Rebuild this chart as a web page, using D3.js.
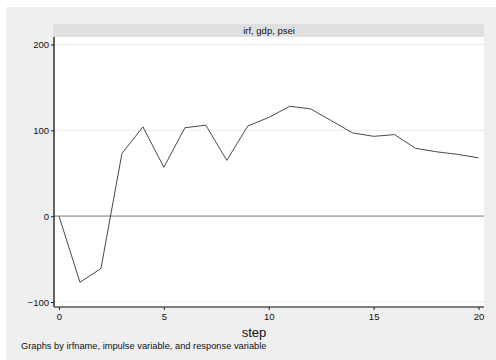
<!DOCTYPE html>
<html>
<head>
<meta charset="utf-8">
<script src="https://cdn.jsdelivr.net/npm/d3@7"></script>
<style>
  html, body { margin: 0; padding: 0; background: #ffffff; }
  svg { display: block; font-family: "Liberation Sans", Arial, sans-serif; }
</style>
</head>
<body>
<svg id="chart" width="496" height="360"></svg>
<script>
// Impulse response of psei to a gdp shock, by step
const steps = [0, 1, 2, 3, 4, 5, 6, 7, 8, 9, 10, 11, 12, 13, 14, 15, 16, 17, 18, 19, 20];
const irf = [0, -77, -61, 73, 104, 57, 103, 106, 65, 105, 115, 128, 125, 111, 97, 93, 95, 79, 75, 72, 68];
const xTicks = [0, 5, 10, 15, 20];
const yTicks = [-100, 0, 100, 200];
const panelTitle = "irf, gdp, psei";
const xTitle = "step";
const note = "Graphs by irfname, impulse variable, and response variable";

const svg = d3.select("#chart");

// outer graph region
svg.append("rect").attr("x", 6).attr("y", 7).attr("width", 490).attr("height", 353)
  .attr("fill", "#efefef");

const plotL = 54, plotR = 484, plotT = 37, plotB = 307;

// panel title strip
svg.append("rect").attr("x", plotL - 1).attr("y", 24).attr("width", plotR - plotL + 1).attr("height", 13)
  .attr("fill", "#e0e0e0");
svg.append("text").attr("x", (plotL + plotR) / 2).attr("y", 34)
  .attr("text-anchor", "middle").attr("font-size", 9.5).attr("fill", "#111")
  .text(panelTitle);

// plot region
svg.append("rect").attr("x", plotL).attr("y", plotT).attr("width", plotR - plotL).attr("height", plotB - plotT)
  .attr("fill", "#ffffff");

const x = d3.scaleLinear().domain([0, 20]).range([59, 478.5]);
const y = d3.scaleLinear().domain([-100, 200]).range([302, 44.5]);

// gridlines
svg.append("g").selectAll("line").data(yTicks.filter(d => d !== 0)).join("line")
  .attr("x1", plotL).attr("x2", plotR)
  .attr("y1", d => y(d)).attr("y2", d => y(d))
  .attr("stroke", "#ececec").attr("stroke-width", 1);

// zero reference line
svg.append("line").attr("x1", plotL).attr("x2", plotR)
  .attr("y1", y(0)).attr("y2", y(0))
  .attr("stroke", "#b2b2b2").attr("stroke-width", 1.6);

// response line
const line = d3.line().x((d, i) => x(steps[i])).y(d => y(d));
svg.append("path").datum(irf).attr("d", line)
  .attr("fill", "none").attr("stroke", "#4a4a4a").attr("stroke-width", 1)
  .attr("stroke-linejoin", "round");

// y axis
const yAxis = d3.axisLeft(y).tickValues(yTicks).tickSize(3).tickPadding(2).tickFormat(d3.format("d"));
const gy = svg.append("g").attr("transform", `translate(${plotL},0)`).call(yAxis);
gy.select(".domain").attr("d", `M0,${plotT}V${plotB}`).attr("stroke", "#111").attr("stroke-width", 1.3);
gy.selectAll(".tick line").attr("stroke", "#222");
gy.selectAll(".tick text").attr("font-size", 9.5).attr("fill", "#111")
  .attr("font-family", "Liberation Sans, Arial, sans-serif");

// x axis
const xAxis = d3.axisBottom(x).tickValues(xTicks).tickSize(3).tickPadding(3).tickFormat(d3.format("d"));
const gx = svg.append("g").attr("transform", `translate(0,${plotB})`).call(xAxis);
gx.select(".domain").attr("d", `M${plotL},0H${plotR}`).attr("stroke", "#555").attr("stroke-width", 1.3);
gx.selectAll(".tick line").attr("stroke", "#222");
gx.selectAll(".tick text").attr("font-size", 9.5).attr("fill", "#111")
  .attr("font-family", "Liberation Sans, Arial, sans-serif");

// axis title
svg.append("text").attr("x", 254).attr("y", 337).attr("text-anchor", "middle")
  .attr("font-size", 13).attr("fill", "#111").text(xTitle);

// note
svg.append("text").attr("x", 21).attr("y", 349).attr("font-size", 9.3).attr("fill", "#111")
  .text(note);
</script>
</body>
</html>
